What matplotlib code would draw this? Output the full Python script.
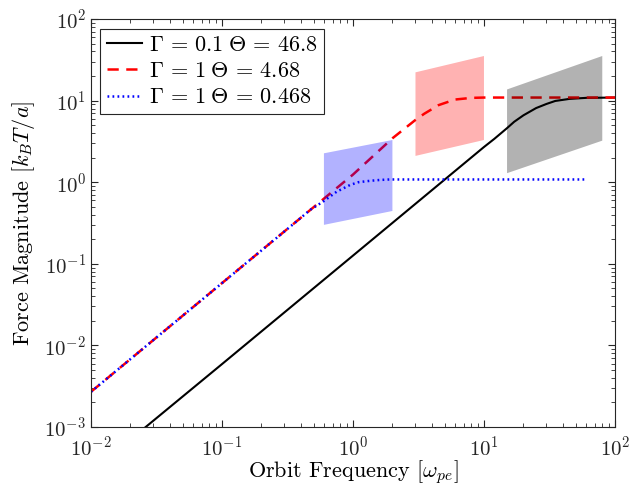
import matplotlib
matplotlib.use('Agg')
import matplotlib.pyplot as plt
from matplotlib.patches import Polygon

plt.rcParams['font.family'] = 'serif'
plt.rcParams['font.serif'] = ['cmr10', 'DejaVu Serif']
plt.rcParams['mathtext.fontset'] = 'cm'
plt.rcParams['axes.formatter.use_mathtext'] = True

# Gamma = 0.1, Theta = 46.8
freq_black = [0.01, 0.1, 1, 10, 12, 15, 17, 20, 25, 30, 35, 45, 60, 100]
force_black = [2.8e-4, 5.9e-3, 0.126, 2.7, 3.4, 4.6, 5.5, 6.6, 8.1, 9.1, 9.9, 10.5, 10.8, 10.9]

# Gamma = 1, Theta = 4.68
freq_red = [0.01, 0.1, 1, 2, 3, 3.5, 4.5, 6, 8, 10, 100]
force_red = [2.7e-3, 0.058, 1.24, 3.45, 5.8, 6.9, 8.8, 10.3, 10.8, 10.9, 10.9]

# Gamma = 1, Theta = 0.468
freq_blue = [0.01, 0.1, 0.4, 0.47, 0.59, 0.75, 0.95, 1.1, 1.35, 1.6, 1.9, 60]
force_blue = [2.7e-3, 0.058, 0.366, 0.457, 0.577, 0.764, 0.925, 1.0, 1.04, 1.065, 1.08, 1.08]

labels = [r'$\Gamma\,=\,0.1\;\Theta\,=\,46.8$',
          r'$\Gamma\,=\,1\;\Theta\,=\,4.68$',
          r'$\Gamma\,=\,1\;\Theta\,=\,0.468$']

# shaded regions: x range, y range at left edge, y range at right edge
box_x = [[0.6, 2.0], [3.0, 10.0], [15.0, 80.0]]
box_left = [[0.30, 2.26], [2.1, 22.2], [1.29, 13.7]]
box_right = [[0.444, 3.29], [3.29, 35.2], [3.23, 35.2]]
box_colors = ['blue', 'red', 'black']

fig = plt.figure(figsize=(6.31, 4.86), dpi=100)
ax = fig.add_axes([0.1442, 0.1214, 0.8304, 0.8395])

ax.plot(freq_black, force_black, color='black', lw=1.5, label=labels[0])
ax.plot(freq_red, force_red, color='red', lw=1.8, ls=(0, (4.5, 3)), label=labels[1])
ax.plot(freq_blue, force_blue, color='blue', lw=1.8, ls=(0, (0.7, 1.3)), label=labels[2])

for xs, yl, yr, c in zip(box_x, box_left, box_right, box_colors):
    pts = [(xs[0], yl[0]), (xs[1], yr[0]), (xs[1], yr[1]), (xs[0], yl[1])]
    ax.add_patch(Polygon(pts, closed=True, facecolor=c, alpha=0.3, edgecolor='none', zorder=3))

ax.set_xscale('log')
ax.set_yscale('log')
ax.set_xlim(1e-2, 1e2)
ax.set_ylim(1e-3, 1e2)

ax.tick_params(which='both', direction='in', top=True, right=True, labelsize=15, colors='#262626')
ax.tick_params(which='major', length=5)
ax.tick_params(which='minor', length=3)
ax.tick_params(axis='x', pad=6)
for s in ax.spines.values():
    s.set_color('#262626')
    s.set_linewidth(0.8)

ax.set_xlabel(r'Orbit Frequency $[\omega_{pe}]$', fontsize=16, labelpad=-1.5)
ax.set_ylabel(r'Force Magnitude $[k_BT/a]$', fontsize=16, labelpad=5)

leg = ax.legend(loc='upper left', bbox_to_anchor=(0.017, 0.976), borderaxespad=0,
                fontsize=16, fancybox=False, edgecolor='#262626', framealpha=1,
                handlelength=1.6, handletextpad=0.3, labelspacing=0.3, borderpad=0.3)
leg.get_frame().set_linewidth(0.8)

fig.savefig('out.png', dpi=100)
